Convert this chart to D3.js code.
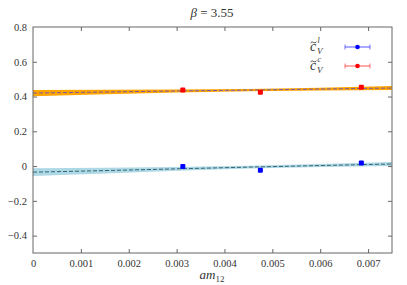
<!DOCTYPE html>
<html>
<head>
<meta charset="utf-8">
<script src="https://cdn.jsdelivr.net/npm/d3@7"></script>
<style>
	body { margin: 0; background: #fff; }
</style>
</head>
<body>
<svg id="chart"></svg>
<script>
// data points
const massX = [0.00313, 0.00475, 0.00686];
const cvLight = [-0.003, -0.024, 0.017];
const cvLightErr = [0.006, 0.006, 0.006];
const cvCharm = [0.437, 0.424, 0.453];
const cvCharmErr = [0.006, 0.006, 0.006];

// fit bands
const fitX = [0, 0.0015, 0.003, 0.0045, 0.006, 0.0075];
const fitLight = [-0.035, -0.026, -0.016, -0.006, 0.003, 0.012];
const fitLightHw = [0.022, 0.016, 0.011, 0.008, 0.009, 0.012];
const fitCharm = [0.420, 0.426, 0.432, 0.437, 0.443, 0.449];
const fitCharmHw = [0.018, 0.013, 0.009, 0.007, 0.008, 0.011];

const xTicks = [0, 0.001, 0.002, 0.003, 0.004, 0.005, 0.006, 0.007];
const yTicks = [-0.4, -0.2, 0, 0.2, 0.4, 0.6, 0.8];

const FONT = "'Liberation Serif', 'DejaVu Serif', serif";

const config = {
	width: 407, height: 285,
	margin: { top: 27, right: 15, bottom: 32, left: 33 }
};

const svg = d3.select("#chart")
	.attr("width", config.width)
	.attr("height", config.height)
	.attr("font-family", FONT);

// scales
const x = d3.scaleLinear()
	.domain([0, 0.0075])
	.range([config.margin.left, config.width - config.margin.right]);
const y = d3.scaleLinear()
	.domain([-0.5, 0.8])
	.range([config.height - config.margin.bottom, config.margin.top]);

const fmt = d => d === 0 ? "0" : d3.format("")(d).replace("-", "\u2212");

// fit bands + central lines
function drawBand(center, hw, fill, lineColor) {
	const rows = fitX.map((v, i) => ({ x: v, c: center[i], h: hw[i] }));
	svg.append("path")
		.datum(rows)
		.attr("fill", fill)
		.attr("d", d3.area().x(d => x(d.x)).y0(d => y(d.c - d.h)).y1(d => y(d.c + d.h)));
	svg.append("path")
		.datum(rows)
		.attr("fill", "none")
		.attr("stroke", lineColor)
		.attr("stroke-width", 1)
		.attr("stroke-dasharray", "4,2")
		.attr("d", d3.line().x(d => x(d.x)).y(d => y(d.c)));
}
drawBand(fitCharm, fitCharmHw, "#ffa500", "#7a5aa0");
drawBand(fitLight, fitLightHw, "#add8e6", "#3a6470");

// points with error bars
function drawPoints(vals, errs, color) {
	const g = svg.append("g");
	massX.forEach((m, i) => {
		g.append("line")
			.attr("x1", x(m)).attr("x2", x(m))
			.attr("y1", y(vals[i] - errs[i])).attr("y2", y(vals[i] + errs[i]))
			.attr("stroke", color).attr("stroke-width", 1.5);
		g.append("rect")
			.attr("x", x(m) - 2.5).attr("y", y(vals[i]) - 2.5)
			.attr("width", 5).attr("height", 5)
			.attr("rx", 1)
			.attr("fill", color);
	});
}
drawPoints(cvCharm, cvCharmErr, "#ff0000");
drawPoints(cvLight, cvLightErr, "#0000ff");

// axes (ticks on all sides, pointing in)
const axisColor = "#666";
const styleAxis = g => {
	g.attr("font-family", FONT).attr("font-size", 10.5);
	g.select(".domain").remove();
	g.selectAll("line").attr("stroke", axisColor);
	g.selectAll("text").attr("fill", "#333");
};
svg.append("g")
	.attr("transform", `translate(0, ${y(-0.5)})`)
	.call(d3.axisBottom(x).tickValues(xTicks).tickFormat(fmt).tickSizeInner(-4).tickSizeOuter(0).tickPadding(7))
	.call(styleAxis)
	.call(g => g.selectAll(".tick").filter(d => d === 0).select("line").remove());
svg.append("g")
	.attr("transform", `translate(0, ${y(0.8)})`)
	.call(d3.axisTop(x).tickValues(xTicks).tickFormat("").tickSizeInner(-4).tickSizeOuter(0))
	.call(styleAxis)
	.call(g => g.selectAll(".tick").filter(d => d === 0).select("line").remove());
svg.append("g")
	.attr("transform", `translate(${x(0)}, 0)`)
	.call(d3.axisLeft(y).tickValues(yTicks).tickFormat(fmt).tickSizeInner(-4).tickSizeOuter(0).tickPadding(6))
	.call(styleAxis)
	.call(g => g.selectAll(".tick").filter(d => d === 0.8).select("line").remove());
svg.append("g")
	.attr("transform", `translate(${x(0.0075)}, 0)`)
	.call(d3.axisRight(y).tickValues(yTicks).tickFormat("").tickSizeInner(-4).tickSizeOuter(0))
	.call(styleAxis)
	.call(g => g.selectAll(".tick").filter(d => d === 0.8).select("line").remove());

// frame
svg.append("rect")
	.attr("x", x(0)).attr("y", y(0.8))
	.attr("width", x(0.0075) - x(0)).attr("height", y(-0.5) - y(0.8))
	.attr("fill", "none")
	.attr("stroke", axisColor)
	.attr("stroke-width", 1);

// title
svg.append("text")
	.attr("x", 212).attr("y", 17)
	.attr("text-anchor", "middle")
	.attr("font-size", 13)
	.attr("fill", "#333")
	.html('<tspan font-style="italic">β</tspan> = 3.55');

// x label
const xl = svg.append("text")
	.attr("x", 212).attr("y", 279)
	.attr("text-anchor", "middle")
	.attr("font-size", 13)
	.attr("fill", "#333");
xl.append("tspan").attr("font-style", "italic").text("am");
xl.append("tspan").attr("font-size", 9).attr("dy", 3).text("12");

// legend
const legend = [
	{ sup: "l", color: "#0000ff", y: 47 },
	{ sup: "c", color: "#ff0000", y: 66 }
];
legend.forEach(d => {
	const g = svg.append("g").attr("fill", "#333").attr("font-style", "italic");
	g.append("text").attr("x", 310).attr("y", d.y + 4).attr("font-size", 14).text("c");
	// tilde accent drawn as a path
	g.append("path")
		.attr("d", `M${310.5},${d.y - 4} q1.5,-2 3,-0.6 q1.5,1.4 3,-0.6`)
		.attr("fill", "none").attr("stroke", "#333").attr("stroke-width", 0.8);
	g.append("text").attr("x", 317.5).attr("y", d.y - 4).attr("font-size", 8).text(d.sup);
	g.append("text").attr("x", 317).attr("y", d.y + 7).attr("font-size", 9).text("V");

	svg.append("line")
		.attr("x1", 345).attr("x2", 370).attr("y1", d.y).attr("y2", d.y)
		.attr("stroke", d.color).attr("stroke-opacity", 0.45).attr("stroke-width", 1.5);
	[345, 370].forEach(cx => svg.append("line")
		.attr("x1", cx).attr("x2", cx).attr("y1", d.y - 2.5).attr("y2", d.y + 2.5)
		.attr("stroke", d.color).attr("stroke-opacity", 0.45).attr("stroke-width", 1.2));
	svg.append("circle")
		.attr("cx", 357.5).attr("cy", d.y).attr("r", 2.3)
		.attr("fill", d.color);
});
</script>
</body>
</html>
